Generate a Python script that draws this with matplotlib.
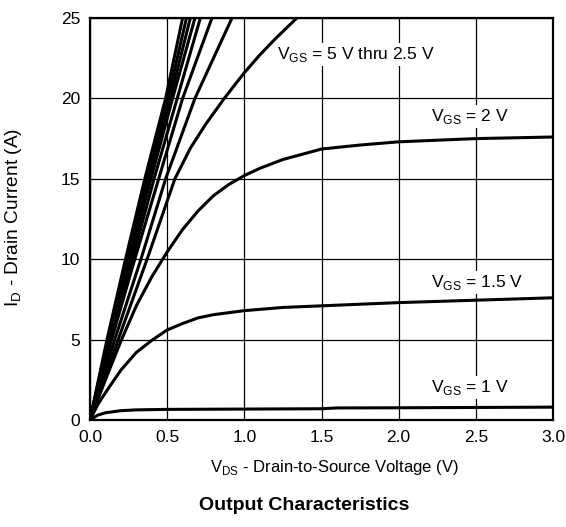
import matplotlib
matplotlib.use('Agg')
import matplotlib.pyplot as plt

plt.rcParams['font.family'] = ['Liberation Sans', 'DejaVu Sans']
plt.rcParams['mathtext.fontset'] = 'custom'
plt.rcParams['mathtext.rm'] = 'Liberation Sans'

# steep curves, VGS = 5 V down to ~2.6 V: drain voltage at given currents
steep_i = [0, 5, 10, 15, 20, 25]
steep_v = [
    [0, 0.11, 0.23, 0.355, 0.49, 0.60],
    [0, 0.115, 0.24, 0.365, 0.505, 0.625],
    [0, 0.12, 0.25, 0.38, 0.52, 0.65],
    [0, 0.125, 0.26, 0.395, 0.535, 0.68],
    [0, 0.13, 0.275, 0.415, 0.565, 0.715],
    [0, 0.14, 0.29, 0.445, 0.60, 0.79],
    [0, 0.16, 0.33, 0.49, 0.68, 0.92],
]

# VGS = 2.5 V
v25 = [0, 0.19, 0.37, 0.55, 0.65, 0.75, 0.87, 1.0, 1.1, 1.2, 1.34]
i25 = [0, 5.2, 10, 15, 16.9, 18.4, 20, 21.6, 22.7, 23.7, 25]

# VGS = 2 V
v20 = [0, 0.1, 0.2, 0.3, 0.4, 0.5, 0.6, 0.7, 0.8, 0.9, 1.0, 1.1, 1.25, 1.5, 1.75, 2.0, 2.5, 3.0]
i20 = [0, 2.5, 4.9, 7.1, 8.9, 10.45, 11.85, 13.0, 13.95, 14.65, 15.2, 15.65, 16.2, 16.85, 17.1, 17.3, 17.5, 17.6]

# VGS = 1.5 V
v15 = [0, 0.05, 0.1, 0.2, 0.3, 0.4, 0.5, 0.6, 0.7, 0.8, 1.0, 1.25, 1.5, 2.0, 2.5, 3.0]
i15 = [0, 0.95, 1.7, 3.1, 4.2, 4.95, 5.6, 6.0, 6.35, 6.55, 6.8, 7.0, 7.1, 7.3, 7.45, 7.6]

# VGS = 1 V
v10 = [0, 0.05, 0.1, 0.2, 0.3, 0.5, 1.0, 1.5, 1.6, 2.0, 2.5, 3.0]
i10 = [0, 0.3, 0.45, 0.58, 0.63, 0.66, 0.68, 0.7, 0.75, 0.76, 0.78, 0.8]

xticks = [0.0, 0.5, 1.0, 1.5, 2.0, 2.5, 3.0]
yticks = [0, 5, 10, 15, 20, 25]

fig = plt.figure(figsize=(5.66, 5.27), dpi=100)
ax = fig.add_axes([90 / 566, 1 - 420 / 527, 463 / 566, 402 / 527])

lw = 2.2
for vv in steep_v:
    ax.plot(vv, steep_i, color='black', lw=lw, solid_capstyle='butt')
ax.plot(v25, i25, color='black', lw=lw)
ax.plot(v20, i20, color='black', lw=lw)
ax.plot(v15, i15, color='black', lw=lw)
ax.plot(v10, i10, color='black', lw=lw)

ax.set_xlim(0, 3.0)
ax.set_ylim(0, 25)
ax.set_xticks(xticks)
ax.set_xticklabels(['%.1f' % t for t in xticks])
ax.set_yticks(yticks)
ax.grid(True, color='black', lw=0.9)
ax.set_axisbelow(True)
ax.tick_params(length=0, labelsize=12.5, pad=7)
for s in ax.spines.values():
    s.set_linewidth(1.6)

fs = 12.5
box = dict(facecolor='white', edgecolor='none', pad=1.5)
ax.text(1.21, 22.75, r'V$_{\mathregular{GS}}$ = 5 V thru 2.5 V', fontsize=fs, va='center', bbox=box)
ax.text(2.21, 18.9, r'V$_{\mathregular{GS}}$ = 2 V', fontsize=fs, va='center', bbox=box)
ax.text(2.21, 8.55, r'V$_{\mathregular{GS}}$ = 1.5 V', fontsize=fs, va='center', bbox=box)
ax.text(2.21, 2.0, r'V$_{\mathregular{GS}}$ = 1 V', fontsize=fs, va='center', bbox=box)

ax.set_xlabel(r'V$_{\mathregular{DS}}$ - Drain-to-Source Voltage (V)', fontsize=12)
ax.xaxis.set_label_coords((334 - 90) / 463, -(458 - 420) / 402)
ax.set_ylabel(r'I$_{\mathregular{D}}$ - Drain Current (A)', fontsize=13.8)
ax.yaxis.set_label_coords(-(90 - 24) / 463, (420 - 217) / 402)
fig.text(304 / 566, 1 - 505 / 527, 'Output Characteristics', fontsize=14, fontweight='bold',
         ha='center', va='center')

fig.savefig('out.png', dpi=100)
